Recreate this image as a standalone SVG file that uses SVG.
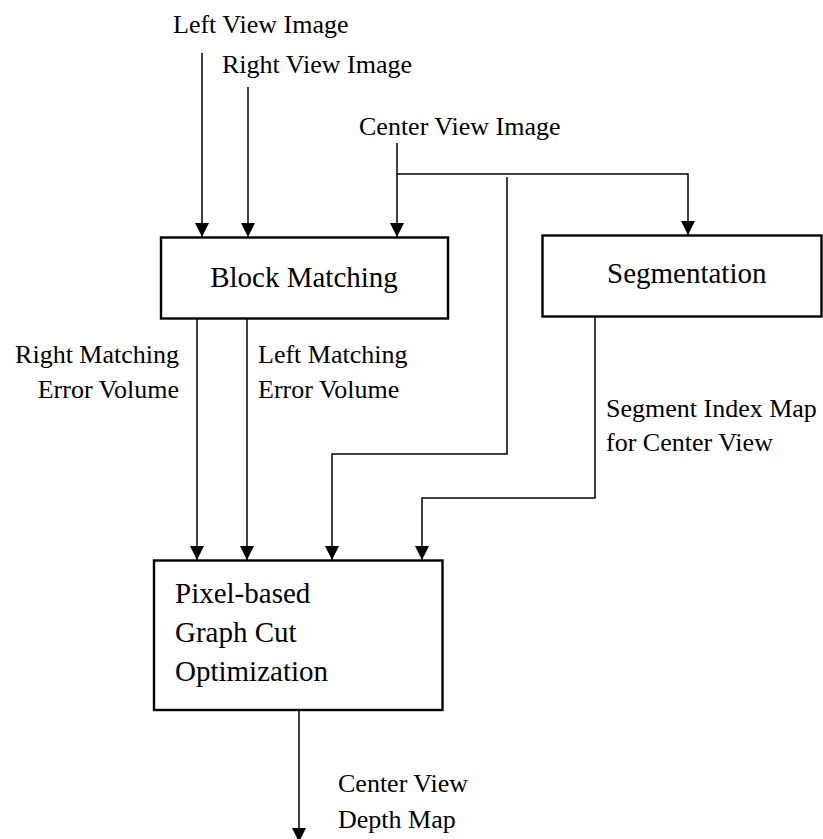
<svg xmlns="http://www.w3.org/2000/svg" width="823" height="839" viewBox="0 0 823 839">
<style>
.box{fill:#fff;stroke:#000;stroke-width:2.4}
.c{fill:none;stroke:#000;stroke-width:1.5}
.t{font-family:"Liberation Serif","Times New Roman",serif;font-size:26px;fill:#000}
.bt{font-family:"Liberation Serif","Times New Roman",serif;font-size:29px;fill:#000}
</style>
<defs>
<marker id="ah" markerWidth="14" markerHeight="14" refX="14" refY="7" orient="auto" markerUnits="userSpaceOnUse">
<path d="M0,0 L14,7 L0,14 Z" fill="#000"/>
</marker>
</defs>
<rect width="823" height="839" fill="#fff"/>
<g id="connectors">
<line class="c" x1="202" y1="53" x2="202" y2="237" marker-end="url(#ah)"/>
<line class="c" x1="248" y1="87" x2="248" y2="237" marker-end="url(#ah)"/>
<line class="c" x1="397" y1="143" x2="397" y2="237" marker-end="url(#ah)"/>
<polyline class="c" points="397,174 688,174 688,235" marker-end="url(#ah)"/>
<polyline class="c" points="507,177 507,454 332,454 332,560" marker-end="url(#ah)"/>
<polyline class="c" points="595,317 595,498 422,498 422,560" marker-end="url(#ah)"/>
<line class="c" x1="197" y1="319" x2="197" y2="560" marker-end="url(#ah)"/>
<line class="c" x1="247" y1="319" x2="247" y2="560" marker-end="url(#ah)"/>
<line class="c" x1="299" y1="710" x2="299" y2="842" marker-end="url(#ah)"/>
</g>
<g id="labels">
<text class="t" x="173" y="33">Left View Image</text>
<text class="t" x="222" y="73">Right View Image</text>
<text class="t" x="359" y="135">Center View Image</text>
<text class="t" x="179" y="363" text-anchor="end">Right Matching</text>
<text class="t" x="179" y="398" text-anchor="end">Error Volume</text>
<text class="t" x="258" y="363">Left Matching</text>
<text class="t" x="258" y="398">Error Volume</text>
<text class="t" x="606" y="417">Segment Index Map</text>
<text class="t" x="606" y="451">for Center View</text>
<text class="t" x="338" y="792">Center View</text>
<text class="t" x="338" y="828">Depth Map</text>
</g>
<g id="block-matching">
<rect class="box" x="161" y="237.5" width="287" height="81"/>
<text class="bt" x="304" y="287" text-anchor="middle">Block Matching</text>
</g>
<g id="segmentation">
<rect class="box" x="542.5" y="235.5" width="279" height="81"/>
<text class="bt" x="607" y="283">Segmentation</text>
</g>
<g id="graph-cut">
<rect class="box" x="154" y="560.5" width="288.5" height="149.5"/>
<text class="bt" x="175" y="603">Pixel-based</text>
<text class="bt" x="175" y="642">Graph Cut</text>
<text class="bt" x="175" y="681">Optimization</text>
</g>
</svg>
